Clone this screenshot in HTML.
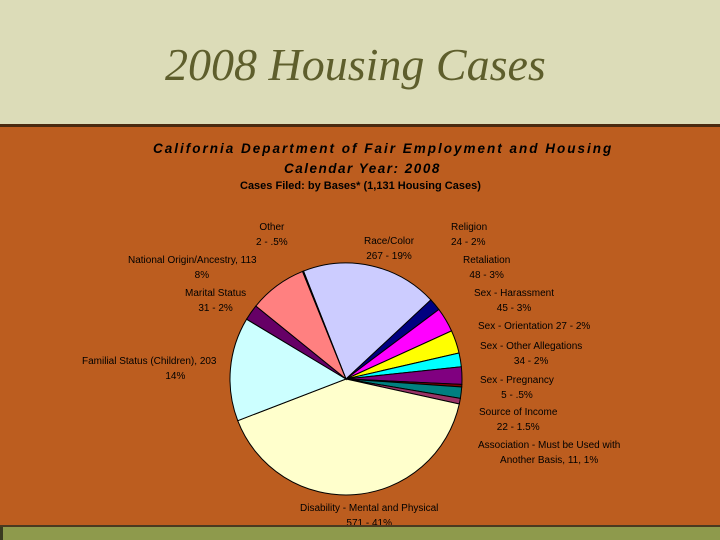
<!DOCTYPE html>
<html><head><meta charset="utf-8"><style>
html,body{margin:0;padding:0}
body{width:720px;height:540px;position:relative;overflow:hidden;background:#BC5D1F;font-family:"Liberation Sans",sans-serif}
.hdr{position:absolute;left:0;top:0;width:720px;height:124px;background:#DCDCB8}
.hline{position:absolute;left:0;top:124px;width:720px;height:3px;background:#4A2A10}
.foot{position:absolute;left:0;top:527px;width:720px;height:13px;background:#8E9A4C;border-left:3px solid #3A3A20;box-sizing:border-box}
.fline{position:absolute;left:0;top:525px;width:720px;height:2px;background:#4A3A20}
.title{position:absolute;left:165px;top:38px;font-family:"Liberation Serif",serif;font-style:italic;font-size:46px;color:#5E5E2C;white-space:nowrap}
.t{position:absolute;white-space:nowrap;color:#000}
.lbl{position:absolute;font-size:10px;color:#000;text-align:center;line-height:15px;white-space:nowrap}
</style></head><body>
<div class="hdr"></div>
<div class="hline"></div>
<div class="title">2008 Housing Cases</div>
<div class="t" style="left:153px;top:141px;font-size:13.5px;font-weight:bold;font-style:italic;letter-spacing:2px">California Department of Fair Employment and Housing</div>
<div class="t" style="left:284px;top:161px;font-size:13.5px;font-weight:bold;font-style:italic;letter-spacing:1.5px">Calendar Year: 2008</div>
<div class="t" style="left:240px;top:180px;font-size:11px;font-weight:bold">Cases Filed: by Bases* (1,131 Housing Cases)</div>
<svg id="pie" width="720" height="540" style="position:absolute;left:0;top:0"></svg>
<div class="lbl" style="left:256px;top:220px">Other<br>2 - .5%</div>
<div class="lbl" style="left:364px;top:234px">Race/Color<br>267 - 19%</div>
<div class="lbl" style="left:128px;top:253px;text-align:left">National Origin/Ancestry, 113<br>&nbsp; &nbsp; &nbsp; &nbsp; &nbsp; &nbsp; &nbsp; &nbsp; &nbsp; &nbsp; &nbsp; &nbsp; 8%</div>
<div class="lbl" style="left:185px;top:286px">Marital Status<br>31 - 2%</div>
<div class="lbl" style="left:82px;top:354px;text-align:left">Familial Status (Children), 203<br>&nbsp; &nbsp; &nbsp; &nbsp; &nbsp; &nbsp; &nbsp; &nbsp; &nbsp; &nbsp; &nbsp; &nbsp; &nbsp; &nbsp; &nbsp; 14%</div>
<div class="lbl" style="left:451px;top:220px;text-align:left">Religion<br>24 - 2%</div>
<div class="lbl" style="left:463px;top:253px">Retaliation<br>48 - 3%</div>
<div class="lbl" style="left:474px;top:286px">Sex - Harassment<br>45 - 3%</div>
<div class="lbl" style="left:478px;top:319px">Sex - Orientation 27 - 2%</div>
<div class="lbl" style="left:480px;top:339px">Sex - Other Allegations<br>34 - 2%</div>
<div class="lbl" style="left:480px;top:373px">Sex - Pregnancy<br>5 - .5%</div>
<div class="lbl" style="left:479px;top:405px">Source of Income<br>22 - 1.5%</div>
<div class="lbl" style="left:478px;top:438px">Association - Must be Used with<br>Another Basis, 11, 1%</div>
<div class="lbl" style="left:300px;top:501px">Disability - Mental and Physical<br>571 - 41%</div>
<div class="fline"></div>
<div class="foot"></div>
<script>
const categories=["Race/Color","Religion","Retaliation","Sex - Harassment","Sex - Orientation","Sex - Other Allegations","Sex - Pregnancy","Source of Income","Association","Disability","Familial Status","Marital Status","National Origin","Other"];
const values=[267,24,48,45,27,34,5,22,11,571,203,31,113,2];
const colors=["#CCCCFF","#000080","#FF00FF","#FFFF00","#00FFFF","#800080","#800000","#008080","#993366","#FFFFCC","#CCFFFF","#660066","#FF8080","#0066CC"];
const cx=346,cy=379,r=116,startDeg=-21.5;
const svg=document.getElementById('pie');
const NS="http://www.w3.org/2000/svg";
const total=values.reduce((a,b)=>a+b,0);
function pt(a){const rad=(a-90)*Math.PI/180;return [cx+r*Math.cos(rad),cy+r*Math.sin(rad)];}
let a=startDeg;
values.forEach((v,i)=>{
  const sweep=v/total*360;const p1=pt(a),p2=pt(a+sweep);
  const path=document.createElementNS(NS,'path');
  path.setAttribute('d',`M${cx},${cy} L${p1[0].toFixed(2)},${p1[1].toFixed(2)} A${r},${r} 0 ${sweep>180?1:0} 1 ${p2[0].toFixed(2)},${p2[1].toFixed(2)} Z`);
  path.setAttribute('fill',colors[i]);path.setAttribute('stroke','#000');path.setAttribute('stroke-width','1');
  
  
  svg.appendChild(path);
  a+=sweep;
});
</script>
</body></html>
